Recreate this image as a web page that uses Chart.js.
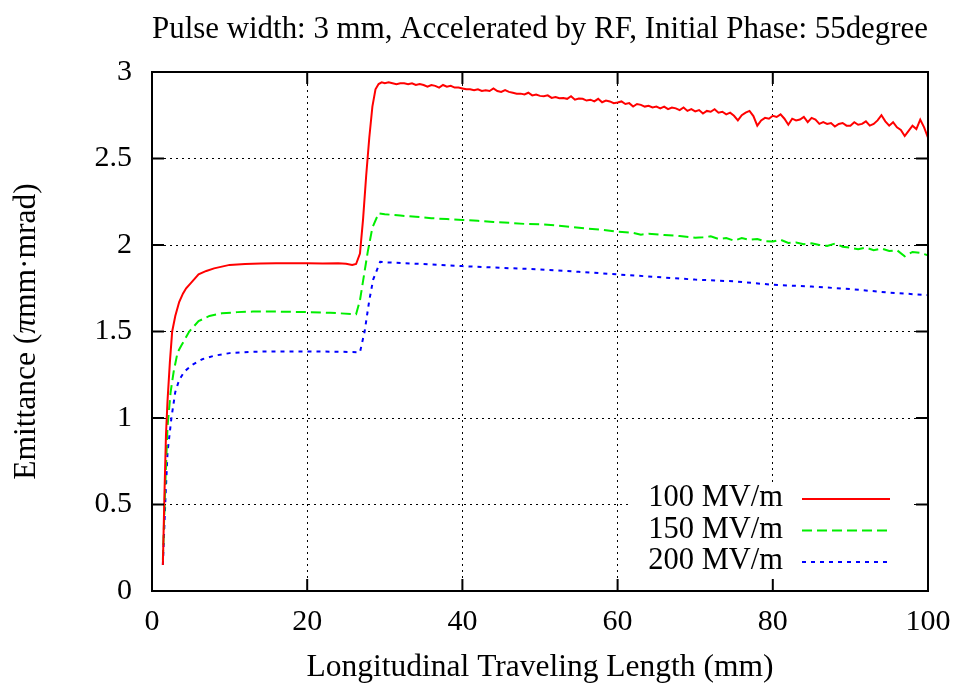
<!DOCTYPE html>
<html>
<head>
<meta charset="utf-8">
<script src="https://cdn.jsdelivr.net/npm/chart.js@4.4.1/dist/chart.umd.min.js"></script>
<style>
html,body{margin:0;padding:0;background:#fff;}
canvas{display:block;}
</style>
</head>
<body>
<canvas id="c" width="960" height="687"></canvas>
<script>
// ---- data ----
const chartTitle = "Pulse width: 3 mm, Accelerated by RF, Initial Phase: 55degree";
const xAxisTitle = "Longitudinal Traveling Length (mm)";
const yAxisTitleParts = ["Emittance (", "\u03C0", "mm\u00B7mrad)"];
const seriesLabels = ["100 MV/m", "150 MV/m", "200 MV/m"];
const xTickValues = [0, 20, 40, 60, 80, 100];
const yTickValues = [0, 0.5, 1, 1.5, 2, 2.5, 3];

const x100 = [1.4,1.6,1.8,2.0,2.3,2.6,3.0,3.5,4.0,4.4,5,6,7,8,10,12,14,16,18,20,22,24,25,25.8,26.3,26.8,27.2,27.6,28,28.4,28.8,29.2,29.6,
  30,30.5,31,31.5,32,32.5,33,33.5,34,34.5,35,35.5,36,36.5,37,37.5,38,38.5,39,39.5,
  40,40.5,41,41.5,42,42.5,43,43.5,44,44.5,45,45.5,46,46.5,47,47.5,48,48.5,49,49.5,
  50,50.5,51,51.5,52,52.5,53,53.5,54,54.5,55,55.5,56,56.5,57,57.5,58,58.5,59,59.5,
  60,60.5,61,61.5,62,62.5,63,63.5,64,64.5,65,65.5,66,66.5,67,67.5,68,68.5,69,69.5,
  70,70.5,71,71.5,72,72.5,73,73.5,74,74.5,75,75.5,76,76.5,77,77.5,78,78.5,79,79.5,
  80,80.5,81,81.5,82,82.5,83,83.5,84,84.5,85,85.5,86,86.5,87,87.5,88,88.5,89,89.5,
  90,90.5,91,91.5,92,92.5,93,93.5,94,94.5,95,95.5,96,96.5,97,97.5,98,98.5,99,99.5,100];
const y100 = [0.15,0.55,0.9,1.1,1.32,1.5,1.59,1.67,1.72,1.75,1.78,1.83,1.85,1.865,1.885,1.89,1.893,1.895,1.894,1.895,1.893,1.895,1.892,1.884,1.89,1.95,2.15,2.4,2.62,2.8,2.9,2.93,2.94,
  2.935,2.94,2.935,2.93,2.935,2.935,2.93,2.935,2.925,2.93,2.925,2.915,2.925,2.92,2.91,2.925,2.915,2.92,2.91,2.91,
  2.905,2.9,2.9,2.895,2.9,2.89,2.895,2.89,2.905,2.89,2.885,2.895,2.885,2.88,2.875,2.875,2.87,2.88,2.865,2.87,
  2.862,2.86,2.865,2.85,2.855,2.848,2.85,2.845,2.86,2.84,2.847,2.845,2.835,2.84,2.83,2.845,2.825,2.835,2.83,2.82,
  2.824,2.83,2.815,2.82,2.8,2.815,2.81,2.8,2.805,2.795,2.8,2.79,2.8,2.785,2.795,2.79,2.78,2.795,2.775,2.785,
  2.772,2.78,2.76,2.775,2.77,2.785,2.765,2.77,2.755,2.765,2.747,2.72,2.75,2.765,2.775,2.745,2.69,2.72,2.735,2.73,
  2.747,2.74,2.755,2.73,2.695,2.73,2.72,2.725,2.74,2.71,2.735,2.725,2.7,2.71,2.7,2.705,2.685,2.7,2.705,2.69,
  2.69,2.71,2.695,2.7,2.715,2.69,2.7,2.72,2.75,2.715,2.69,2.71,2.68,2.665,2.63,2.66,2.69,2.67,2.725,2.68,2.62];

const x150 = [1.4,1.7,2.0,2.4,2.8,3.3,3.8,4.8,6,7.4,9,11,13,16,20,23,26.3,26.8,27.3,27.8,28.4,29.2,
  30,32,34,36,38,40,42,44,46,48,50,52,54,56,58,60,62,63,64,66,68,70,71,72,73,74,75,76,77,78,79,80,81,82,83,84,85,86,87,88,89,90,
  91,92,93,94,95,96,97,98,99,100];
const y150 = [0.18,0.6,0.95,1.15,1.27,1.38,1.42,1.5,1.56,1.59,1.605,1.612,1.615,1.615,1.612,1.608,1.6,1.68,1.82,1.96,2.1,2.183,
  2.178,2.17,2.163,2.155,2.15,2.145,2.14,2.133,2.128,2.122,2.12,2.113,2.105,2.095,2.088,2.077,2.07,2.06,2.065,2.058,2.052,2.042,2.045,2.05,2.035,2.04,2.025,2.04,2.03,2.035,2.022,2.02,2.03,2.012,2.015,2.005,2.01,2.0,1.995,2.008,1.99,1.985,
  1.975,1.985,1.97,1.98,1.965,1.97,1.935,1.96,1.955,1.94];

const x200 = [1.4,1.7,2.0,2.5,3.0,3.5,4.2,5.3,6.5,8,10,13,16,20,24,26.8,27.4,28.0,28.5,29.4,
  30,35,40,45,50,55,60,65,70,75,80,85,90,95,100];
const y200 = [0.15,0.5,0.8,1.0,1.15,1.22,1.27,1.31,1.34,1.36,1.375,1.383,1.385,1.385,1.383,1.38,1.5,1.68,1.8,1.903,
  1.9,1.89,1.878,1.868,1.859,1.845,1.83,1.815,1.8,1.79,1.77,1.76,1.745,1.725,1.71];

const seriesColors = ["#ff0000", "#00ee00", "#0000ff"];
const seriesDash = [[], [10, 5], [4, 5]];

const FONT = "'Liberation Serif', 'Times New Roman', serif";

function pts(xs, ys) { return xs.map((x, i) => ({x: x, y: ys[i]})); }

const frameAndLegend = {
  id: 'frameAndLegend',
  afterDraw(chart) {
    const ctx = chart.ctx;
    const a = chart.chartArea;
    const xs = chart.scales.x, ys = chart.scales.y;
    // legend (white box, text, samples)
    ctx.save();
    ctx.fillStyle = '#fff';
    ctx.fillRect(632, 482, 280, 108);
    ctx.font = "30.5px " + FONT;
    ctx.textAlign = 'right';
    ctx.textBaseline = 'middle';
    chart.data.datasets.forEach((ds, i) => {
      const yy = 498 + i * 31.5;
      ctx.fillStyle = '#000';
      ctx.fillText(ds.label, 783, yy);
      ctx.strokeStyle = ds.borderColor;
      ctx.lineWidth = 2;
      ctx.setLineDash(ds.borderDash || []);
      ctx.beginPath();
      ctx.moveTo(802, yy + 1);
      ctx.lineTo(890, yy + 1);
      ctx.stroke();
    });
    ctx.restore();
    // frame
    ctx.save();
    ctx.strokeStyle = '#000';
    ctx.lineWidth = 2;
    ctx.setLineDash([]);
    ctx.strokeRect(a.left, a.top, a.right - a.left, a.bottom - a.top);
    // inward ticks on all four sides
    const tl = 12;
    ctx.beginPath();
    xs.ticks.forEach(t => {
      const px = xs.getPixelForValue(t.value);
      ctx.moveTo(px, a.bottom); ctx.lineTo(px, a.bottom - tl);
      ctx.moveTo(px, a.top); ctx.lineTo(px, a.top + tl);
    });
    ys.ticks.forEach(t => {
      const py = ys.getPixelForValue(t.value);
      ctx.moveTo(a.left, py); ctx.lineTo(a.left + tl, py);
      ctx.moveTo(a.right, py); ctx.lineTo(a.right - tl, py);
    });
    ctx.stroke();
    ctx.restore();
    // y axis title with italic pi
    ctx.save();
    const cy = (a.top + a.bottom) / 2;
    ctx.translate(35, cy);
    ctx.rotate(-Math.PI / 2);
    ctx.fillStyle = '#000';
    ctx.textBaseline = 'alphabetic';
    ctx.textAlign = 'left';
    const fonts = ["31.5px " + FONT, "italic 31.5px " + FONT, "31.5px " + FONT];
    let total = 0;
    const widths = yAxisTitleParts.map((p, i) => { ctx.font = fonts[i]; const w = ctx.measureText(p).width; total += w; return w; });
    let xpos = -total / 2;
    yAxisTitleParts.forEach((p, i) => { ctx.font = fonts[i]; ctx.fillText(p, xpos, 0); xpos += widths[i]; });
    ctx.restore();
  }
};

const datasets = [
  pts(x100, y100), pts(x150, y150), pts(x200, y200)
].map((d, i) => ({
  label: seriesLabels[i],
  data: d,
  borderColor: seriesColors[i],
  backgroundColor: seriesColors[i],
  borderDash: seriesDash[i],
  borderWidth: 2,
  pointRadius: 0,
  tension: 0,
  fill: false
}));

new Chart(document.getElementById('c'), {
  type: 'line',
  data: { datasets: datasets },
  plugins: [frameAndLegend],
  options: {
    responsive: false,
    animation: false,
    devicePixelRatio: 1,
    layout: { padding: { left: 0, right: 32, top: 0, bottom: 0 } },
    plugins: {
      legend: { display: false },
      tooltip: { enabled: false },
      title: {
        display: true,
        text: chartTitle,
        fullSize: false,
        color: '#000',
        font: { family: FONT, size: 31.5, weight: 'normal' },
        padding: { top: 11, bottom: 23.2 }
      }
    },
    scales: {
      x: {
        type: 'linear',
        min: 0, max: 100,
        afterBuildTicks: s => { s.ticks = xTickValues.map(v => ({value: v})); },
        afterFit: s => { s.height = 96; s.paddingLeft = 0; s.paddingRight = 0; },
        ticks: { color: '#000', font: { family: FONT, size: 30 }, padding: 13, maxRotation: 0, autoSkip: false, callback: v => String(v) },
        grid: { color: '#000', lineWidth: 1, drawTicks: false },
        border: { display: false, dash: [2, 4] },
        title: { display: true, text: xAxisTitle, color: '#000', font: { family: FONT, size: 31.5 }, padding: { top: 0, bottom: 0 } }
      },
      y: {
        type: 'linear',
        min: 0, max: 3,
        afterBuildTicks: s => { s.ticks = yTickValues.map(v => ({value: v})); },
        afterFit: s => { s.width = 152; },
        ticks: { color: '#000', font: { family: FONT, size: 30 }, padding: 20, autoSkip: false, callback: v => String(v) },
        grid: { color: '#000', lineWidth: 1, drawTicks: false },
        border: { display: false, dash: [2, 4] },
        title: { display: false }
      }
    }
  }
});
</script>
</body>
</html>
